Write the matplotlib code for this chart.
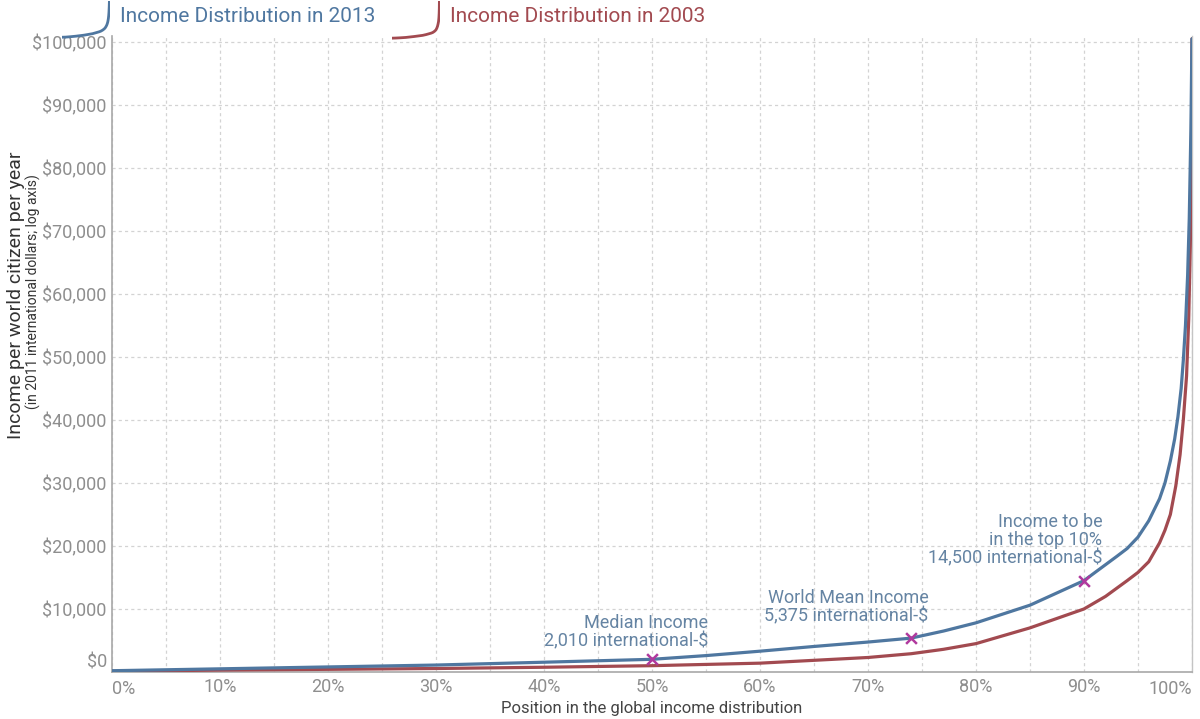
"""
Global income distribution 2003 vs 2013 (position vs income per citizen)
"""
import matplotlib
matplotlib.use("Agg")
import matplotlib.pyplot as plt
from matplotlib.ticker import FuncFormatter, MultipleLocator, FixedLocator

plt.rcParams['font.family'] = ['Roboto', 'DejaVu Sans']

# Position in the distribution (%) and income (2011 int-$)
pos_2013 = [0, 5, 10, 20, 30, 40, 50, 55, 60, 65, 70, 74, 77, 80, 85, 90, 93, 94, 95,
            96, 97, 97.5, 98, 98.4, 98.7, 99, 99.2, 99.4, 99.6, 99.75, 99.9, 100]
inc_2013 = [200, 350, 500, 800, 1100, 1550, 2010, 2600, 3300, 4050, 4750, 5375, 6500,
            7800, 10600, 14500, 18300, 19600, 21400, 24000, 27500, 30000, 33500, 37000,
            40500, 45000, 49500, 55000, 63000, 72000, 86000, 100500]

pos_2003 = [0, 5, 10, 20, 30, 40, 50, 60, 70, 74, 77, 80, 82, 85, 87, 90, 92, 94, 95,
            96, 97, 97.5, 98, 98.5, 98.9, 99.2, 99.5, 99.7, 99.85, 99.95, 100]
inc_2003 = [100, 200, 300, 420, 550, 750, 1000, 1400, 2300, 2900, 3600, 4500, 5500,
            7000, 8200, 10000, 12000, 14500, 15800, 17500, 20500, 22500, 25000, 29500,
            34500, 40000, 47000, 56000, 68000, 82000, 100500]

# Marked points on the 2013 curve
mark_pos = [50, 74, 90]
mark_inc = [2010, 5375, 14500]
mark_text = ['Median Income\n2,010 international-$',
             'World Mean Income\n5,375 international-$',
             'Income to be\nin the top 10%\n14,500 international-$']
text_pos = [55.2, 75.6, 91.7]
text_inc = [3500, 7400, 16600]

x_ticks = [10, 20, 30, 40, 50, 60, 70, 80, 90]
y_ticks = [10000, 20000, 30000, 40000, 50000, 60000, 70000, 80000, 90000, 100000]

blue = '#4f77a0'
red = '#a24a50'
label_blue = '#6584a3'
grey = '#8e8e8e'

fig = plt.figure(figsize=(12, 7.19), dpi=100)
ax = fig.add_axes([0.0933, 0.0654, 0.9, 0.885])

ax.plot(pos_2013, inc_2013, color=blue, lw=2.3, solid_capstyle='round', zorder=4)
ax.plot(pos_2003, inc_2003, color=red, lw=2.3, solid_capstyle='round', zorder=3)
ax.scatter(mark_pos, mark_inc, marker='x', s=60, color='#b0399e', linewidths=1.8, zorder=5)

for t, xp, yp in zip(mark_text, text_pos, text_inc):
    ax.text(xp, yp, t, ha='right', va='bottom', fontsize=13, color=label_blue,
            linespacing=1.0)

ax.set_xlim(0, 100)
ax.set_ylim(0, 101000)
ax.xaxis.set_major_locator(FixedLocator(x_ticks))
ax.xaxis.set_minor_locator(MultipleLocator(5))
ax.yaxis.set_major_locator(FixedLocator(y_ticks))
ax.xaxis.set_major_formatter(FuncFormatter(lambda v, p: f'{v:.0f}%'))
ax.yaxis.set_major_formatter(FuncFormatter(lambda v, p: f'${v:,.0f}'))
ax.grid(True, which='both', axis='x', color='#d3d3d3', linestyle=(0, (2.5, 2.5)), lw=0.9)
ax.grid(True, which='major', axis='y', color='#d3d3d3', linestyle=(0, (2.5, 2.5)), lw=0.9)
ax.set_axisbelow(True)
ax.tick_params(which='both', length=0, labelsize=13, labelcolor=grey)
ax.tick_params(axis='y', pad=4)
ax.tick_params(axis='x', pad=4)

# end labels kept inside the figure, like the original
xt = ax.get_xaxis_transform()
ax.text(0, -0.012, '0%', transform=xt, ha='left', va='top', fontsize=13, color=grey)
ax.text(100, -0.012, '100%', transform=xt, ha='right', va='top', fontsize=13, color=grey)
yt = ax.get_yaxis_transform()
ax.text(-0.004, 0, '$0', transform=yt, ha='right', va='bottom', fontsize=13, color=grey)

ax.spines['top'].set_visible(False)
for s in ['left', 'bottom', 'right']:
    ax.spines[s].set_color('#a8a8a8')
    ax.spines[s].set_linewidth(1.2)
ax.spines['right'].set_color('#c4c4c4')
ax.spines['right'].set_linewidth(1.0)

ax.set_xlabel('Position in the global income distribution', fontsize=12, color='#444444',
              labelpad=4)
fig.text(0.013, 0.59, 'Income per world citizen per year', rotation=90, ha='center',
         va='center', fontsize=14, color='#333333')
fig.text(0.028, 0.595, '(in 2011 international dollars; log axis)', rotation=90, ha='center',
         va='center', fontsize=10, color='#333333')

# Legend: small copies of each curve as icons
for left, xs, ys, col, txt in [(0.052, pos_2013, inc_2013, blue, 'Income Distribution in 2013'),
                               (0.327, pos_2003, inc_2003, red, 'Income Distribution in 2003')]:
    icon = fig.add_axes([left, 0.944, 0.040, 0.054])
    icon.plot(xs, ys, color=col, lw=2)
    icon.set_xlim(72, 100.6)
    icon.set_ylim(-3000, 100000)
    icon.axis('off')
    fig.text(left + 0.048, 0.977, txt, ha='left', va='center', fontsize=15, color=col)

fig.savefig('out.png', dpi=100)
